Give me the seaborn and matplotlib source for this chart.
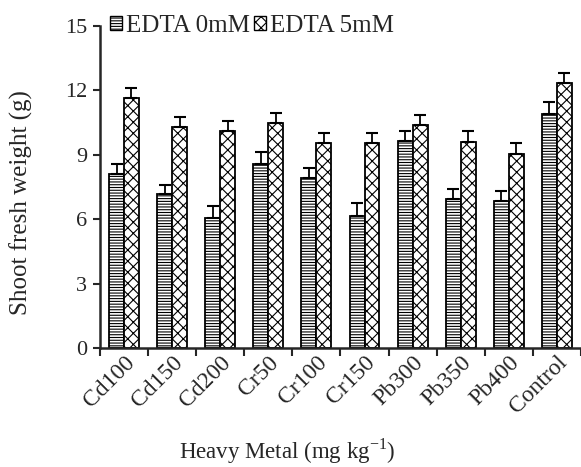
import numpy as np
import pandas as pd
import matplotlib
matplotlib.use("Agg")
import matplotlib.pyplot as plt
import matplotlib.transforms as mtransforms
import seaborn as sns
from matplotlib.patches import Patch

# data
metals = ['Cd100', 'Cd150', 'Cd200', 'Cr50', 'Cr100', 'Cr150', 'Pb300', 'Pb350', 'Pb400', 'Control']
edta_0 = [8.1, 7.16, 6.04, 8.57, 7.9, 6.16, 9.64, 6.94, 6.85, 10.88]
edta_5 = [11.63, 10.31, 10.1, 10.49, 9.53, 9.53, 10.39, 9.61, 9.04, 12.33]
err_0 = [0.47, 0.43, 0.59, 0.57, 0.47, 0.58, 0.46, 0.47, 0.46, 0.56]
err_5 = [0.46, 0.43, 0.49, 0.47, 0.47, 0.47, 0.46, 0.49, 0.49, 0.49]
groups = ['EDTA 0mM', 'EDTA 5mM']
hatches = ['------', 'xxx']

df = pd.DataFrame({
    'Metal': metals * 2,
    'Weight': edta_0 + edta_5,
    'Err': err_0 + err_5,
    'EDTA': [groups[0]] * len(metals) + [groups[1]] * len(metals),
})

sns.set_style('ticks')
plt.rcParams['font.family'] = ['Liberation Serif', 'DejaVu Serif']
plt.rcParams['mathtext.fontset'] = 'custom'
plt.rcParams['mathtext.rm'] = 'Liberation Serif'
plt.rcParams['hatch.linewidth'] = 0.8

fig = plt.figure(figsize=(5.81, 4.67), dpi=100)
ax = fig.add_axes([0.172, 0.2548, 0.828, 0.6895])

sns.barplot(data=df, x='Metal', y='Weight', hue='EDTA', order=metals, hue_order=groups,
            palette=['white', 'white'], edgecolor='black', linewidth=1.3,
            width=0.62, errorbar=None, legend=False, ax=ax)

# hatch and error bars, one container per hue level
for cont, hatch, errs in zip(ax.containers, hatches, [err_0, err_5]):
    xs, ys = [], []
    for bar, e in zip(cont, errs):
        bar.set_hatch(hatch)
        xs.append(bar.get_x() + bar.get_width() / 2)
        ys.append(bar.get_height())
    ax.errorbar(xs, ys, yerr=[np.zeros(len(errs)), errs], fmt='none',
                ecolor='black', elinewidth=1.3, capsize=4.5, capthick=1.5)

ax.set_ylim(0, 15)
ax.set_yticks([0, 3, 6, 9, 12, 15])
ax.set_xlim(-0.5, len(metals) - 0.5)

# ticks between groups, labels at group centres
ax.set_xticks(np.arange(-0.5, len(metals)), labels=[''] * (len(metals) + 1))
ax.set_xticks(np.arange(len(metals)), minor=True)
ax.set_xticklabels(metals, minor=True, rotation=45, ha='right', rotation_mode='anchor', fontsize=17)
shift = mtransforms.ScaledTranslation(15 / 100, 0, fig.dpi_scale_trans)
for lab in ax.get_xticklabels(minor=True):
    lab.set_transform(lab.get_transform() + shift)
ax.tick_params(axis='x', which='minor', length=0, pad=3)
ax.tick_params(axis='x', which='major', length=6, width=1.5)
ax.tick_params(axis='y', length=5, width=1.5, labelsize=16, pad=4)

sns.despine(ax=ax)
for s in ['left', 'bottom']:
    ax.spines[s].set_linewidth(1.8)

ax.set_xlabel('Heavy Metal (mg kg$^{\\mathrm{-1}}$)', fontsize=16.5)
ax.xaxis.set_label_coords(0.39, -0.275)
ax.set_ylabel('Shoot fresh weight (g)', fontsize=18)
ax.yaxis.set_label_coords(-0.139, 0.453)

handles = [Patch(facecolor='white', edgecolor='black', hatch=h, label=g) for h, g in zip(hatches, groups)]
fig.legend(handles=handles, loc='center left', bbox_to_anchor=(0.172, 0.944), ncol=2,
           frameon=False, fontsize=18, handlelength=0.5, handleheight=0.5,
           handletextpad=0.15, columnspacing=0.15, borderaxespad=0)

fig.savefig('out.png', dpi=100)
